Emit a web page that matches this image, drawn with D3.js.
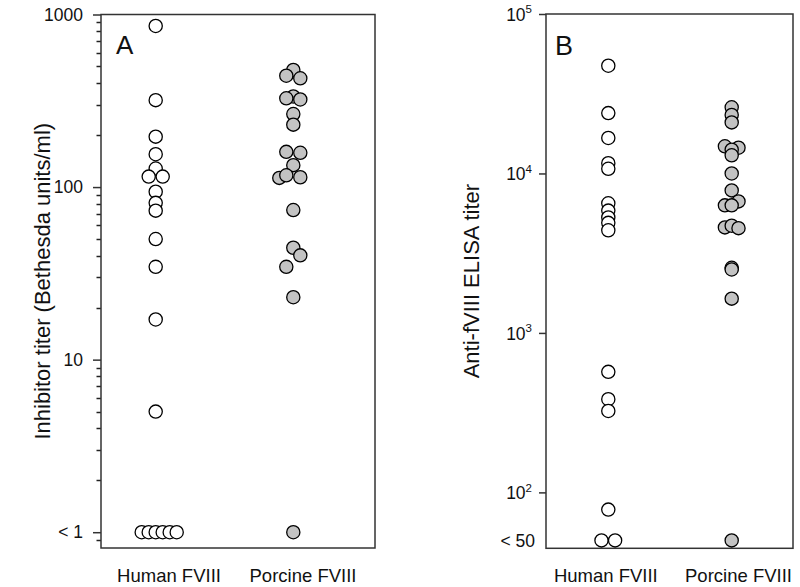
<!DOCTYPE html>
<html>
<head>
<meta charset="utf-8">
<script src="https://cdn.jsdelivr.net/npm/d3@7/dist/d3.min.js"></script>
<style>
  html, body { margin: 0; padding: 0; background: #fff; }
  svg text { font-family: "Liberation Sans", Arial, Helvetica, sans-serif; fill: #111; }
</style>
</head>
<body>
<svg id="chart" width="800" height="587"></svg>
<script>
// ---------- DATA ----------
const categories = ["Human FVIII", "Porcine FVIII"];

// Panel A: inhibitor titer (Bethesda units/ml); value 1 means "< 1"
const humanInhibitor = [858, 319, 196, 155, 128, 115, 115, 94, 81, 73, 50, 34.5, 17.1, 5.0, 1, 1, 1, 1, 1, 1];
const humanInhibitorSlot = [0, 0, 0, 0, 0, -1, 1, 0, 0, 0, 0, 0, 0, 0, -2, -1, 0, 1, 2, 3];
const porcineInhibitor = [477, 442, 427, 335, 327, 322, 265, 230, 160, 158, 134, 113, 117, 114, 73.6, 44.5, 40.2, 34.5, 23, 1];
const porcineInhibitorSlot = [0, -1, 1, 0, -1, 1, 0, 0, -1, 1, 0, -2, -1, 1, 0, 0, 1, -1, 0, 0];

// Panel B: anti-fVIII ELISA titer; value 50 means "< 50"
const humanElisa = [47400, 23900, 16700, 11600, 10700, 6500, 5850, 5300, 4900, 4400, 570, 384, 324, 78, 50, 50];
const humanElisaSlot = [0, 0, 0, 0, 0, 0, 0, 0, 0, 0, 0, 0, 0, 0, -1, 1];
const porcineElisa = [26000, 23300, 20900, 14800, 14500, 14100, 13000, 10000, 7830, 6680, 6310, 6310, 4590, 4700, 4540, 2560, 2500, 1640, 50];
const porcineElisaSlot = [0, 0, 0, -1, 1, 0, 0, 0, 0, 1, -1, 0, -1, 0, 1, 0, 0, 0, 0];

// Axis ticks
const ticksA = [1, 10, 100, 1000];
const tickLabelsA = ["< 1", "10", "100", "1000"];
const minorTicksA = [0.9, 2, 3, 4, 5, 6, 7, 8, 9, 20, 30, 40, 50, 60, 70, 80, 90, 200, 300, 400, 500, 600, 700, 800, 900];
const ticksB = [100, 1000, 10000, 100000];
const tickExpB = ["2", "3", "4", "5"];
const censoredB = 50;
const censoredLabelB = "< 50";

const titleA = "Inhibitor titer (Bethesda units/ml)";
const titleB = "Anti-fVIII ELISA titer";

// ---------- DRAW ----------
const svg = d3.select("#chart");
const frameColor = "#333";

function frame(g, x0, y0, x1, y1) {
  g.append("rect").attr("x", x0).attr("y", y0).attr("width", x1 - x0).attr("height", y1 - y0)
    .attr("fill", "none").attr("stroke", frameColor).attr("stroke-width", 1.5);
}

function dots(g, xScale, yScale, slotScale, cat, values, slots, fill) {
  const rows = values.map((v, i) => ({ v, s: slots[i] }));
  g.selectAll(null).data(rows).enter().append("circle")
    .attr("cx", d => xScale(cat) + slotScale(d.s))
    .attr("cy", d => yScale(d.v))
    .attr("r", 6.6)
    .attr("fill", fill)
    .attr("stroke", "#000")
    .attr("stroke-width", 1.3);
}

// ----- Panel A -----
const A = { x0: 101, x1: 375, y0: 14.5, y1: 548 };
const yA = d3.scaleLog().domain([0.81, 1000]).range([A.y1, A.y0]);
const xA = d3.scalePoint().domain(categories).range([155.7, 293.3]);
const slotA = d3.scaleLinear().domain([0, 1]).range([0, 7]);
const labelXA = d3.scalePoint().domain(categories).range([169, 303]);

const gA = svg.append("g");
// minor ticks
gA.append("g").selectAll("line").data(minorTicksA).enter().append("line")
  .attr("x1", A.x0 - 4.5).attr("x2", A.x0)
  .attr("y1", d => Math.round(yA(d)) + 0.5).attr("y2", d => Math.round(yA(d)) + 0.5)
  .attr("stroke", "#222").attr("stroke-width", 1.5);
// major ticks
gA.append("g").attr("transform", `translate(${A.x0},0)`)
  .call(d3.axisLeft(yA).tickValues(ticksA).tickSize(8).tickPadding(10)
    .tickFormat((d, i) => tickLabelsA[i]))
  .call(g => g.select(".domain").remove())
  .call(g => g.selectAll("line").attr("stroke", frameColor).attr("stroke-width", 1.5))
  .call(g => g.selectAll("text").attr("font-size", 17.5).attr("fill", "#111")
    .style("font-family", '"Liberation Sans", Arial, sans-serif'));
frame(gA, A.x0, A.y0, A.x1, A.y1);

dots(gA, xA, yA, slotA, categories[0], humanInhibitor, humanInhibitorSlot, "#fff");
dots(gA, xA, yA, slotA, categories[1], porcineInhibitor, porcineInhibitorSlot, "#c3c3c3");

gA.append("text").attr("x", 116).attr("y", 53.5).attr("font-size", 26).text("A");
gA.selectAll(null).data(categories).enter().append("text")
  .attr("x", d => labelXA(d)).attr("y", 581.5).attr("text-anchor", "middle")
  .attr("font-size", 18.5).text(d => d);
gA.append("text")
  .attr("transform", `translate(42,${(A.y0 + A.y1) / 2}) rotate(-90)`)
  .attr("text-anchor", "middle").attr("dy", "0.35em")
  .attr("font-size", 22).text(titleA);

// ----- Panel B -----
const B = { x0: 546, x1: 793, y0: 14, y1: 548.3 };
const yB = d3.scaleLog().domain([44.6, 100000]).range([B.y1, B.y0]);
const xB = d3.scalePoint().domain(categories).range([608.3, 731.7]);
const slotB = d3.scaleLinear().domain([0, 1]).range([0, 6.8]);
const labelXB = d3.scalePoint().domain(categories).range([605.8, 738.5]);

const gB = svg.append("g");
const axB = gB.append("g").attr("transform", `translate(${B.x0},0)`)
  .call(d3.axisLeft(yB).tickValues(ticksB).tickSize(7).tickPadding(9).tickFormat(""))
  .call(g => g.select(".domain").remove())
  .call(g => g.selectAll("line").attr("stroke", frameColor).attr("stroke-width", 1.5));
axB.selectAll(".tick").append("text")
  .attr("x", -14).attr("dy", "0.35em").attr("text-anchor", "end")
  .attr("font-size", 17.5).attr("fill", "#111")
  .each(function (d, i) {
    const t = d3.select(this);
    t.append("tspan").text("10");
    t.append("tspan").attr("font-size", 11.5).attr("dy", "-0.65em").text(tickExpB[i]);
  });
gB.append("text").attr("x", B.x0 - 11).attr("y", yB(censoredB)).attr("dy", "0.35em")
  .attr("text-anchor", "end").attr("font-size", 17.5).text(censoredLabelB);
frame(gB, B.x0, B.y0, B.x1, B.y1);

dots(gB, xB, yB, slotB, categories[0], humanElisa, humanElisaSlot, "#fff");
dots(gB, xB, yB, slotB, categories[1], porcineElisa, porcineElisaSlot, "#c3c3c3");

gB.append("text").attr("x", 555).attr("y", 55).attr("font-size", 27).text("B");
gB.selectAll(null).data(categories).enter().append("text")
  .attr("x", d => labelXB(d)).attr("y", 581.5).attr("text-anchor", "middle")
  .attr("font-size", 18.5).text(d => d);
gB.append("text")
  .attr("transform", `translate(471,${(B.y0 + B.y1) / 2}) rotate(-90)`)
  .attr("text-anchor", "middle").attr("dy", "0.35em")
  .attr("font-size", 22).text(titleB);
</script>
</body>
</html>
